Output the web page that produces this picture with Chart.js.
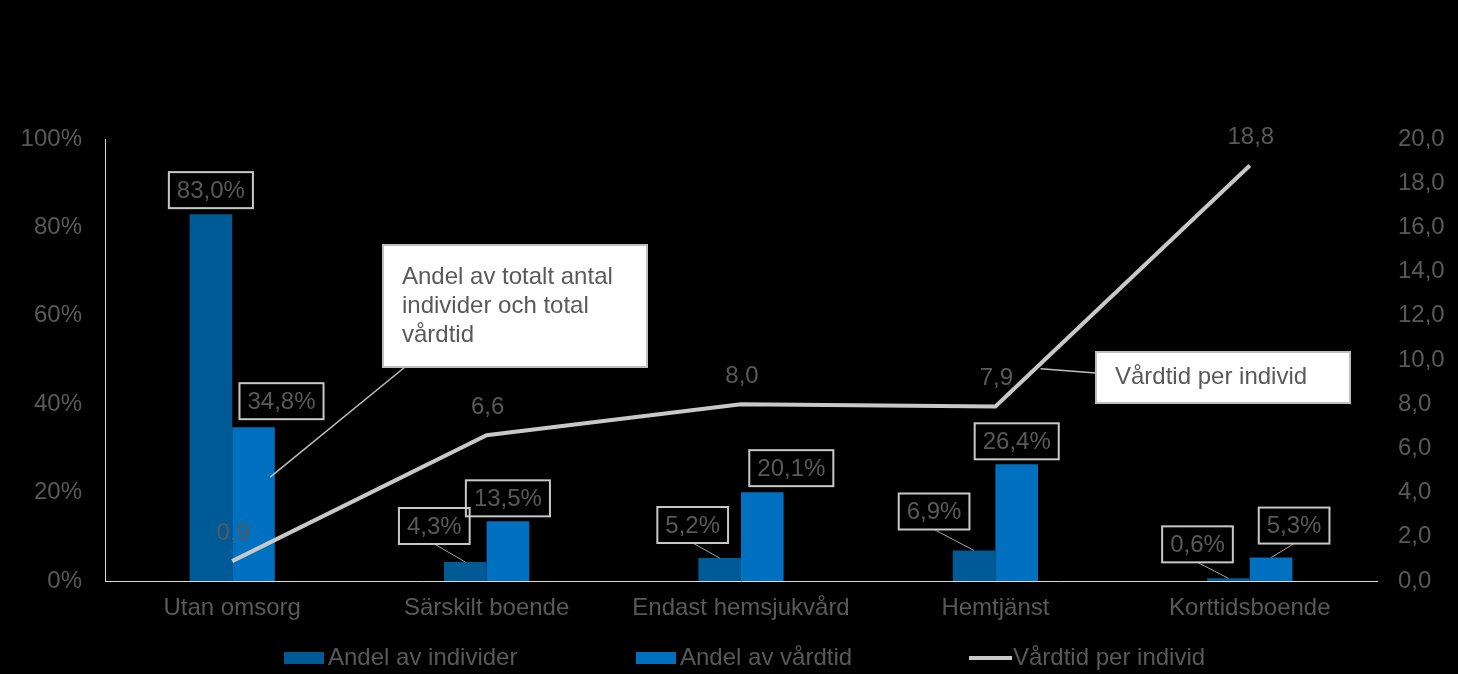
<!DOCTYPE html>
<html>
<head>
<meta charset="utf-8">
<script src="https://cdn.jsdelivr.net/npm/chart.js@4.4.1/dist/chart.umd.min.js"></script>
<style>
  html, body { margin: 0; background: #000; }
  canvas { display: block; }
</style>
</head>
<body>
<canvas id="chart" width="1458" height="674"></canvas>
<script>
// data
const categories = ['Utan omsorg', 'Särskilt boende', 'Endast hemsjukvård', 'Hemtjänst', 'Korttidsboende'];
const andelIndivider = [83.0, 4.3, 5.2, 6.9, 0.6];
const andelVardtid = [34.8, 13.5, 20.1, 26.4, 5.3];
const vardtidPerIndivid = [0.9, 6.6, 8.0, 7.9, 18.8];
const seriesNames = ['Andel av individer', 'Andel av vårdtid', 'Vårdtid per individ'];
const calloutAndel = ['Andel av totalt antal', 'individer och total', 'vårdtid'];
const calloutVardtid = ['Vårdtid per individ'];

const FONT = '"Liberation Sans", Arial, sans-serif';
const GREY_TEXT = '#595959';
const DARK = '#005a96';
const LIGHT = '#0070c0';
const LINE = '#c8c8c8';

// label box offsets (px) from the bar top, as placed in the reference
const darkLabelOffset = [[0, -24], [-31, -36], [-27, -33], [-40, -39], [-31, -34]];
const lightLabelOffset = [[28, -26], [0, -23], [29, -24], [0, -23], [23, -32]];

const comma = (v, d) => v.toFixed(d).replace('.', ',');

function drawBoxLabel(ctx, text, cx, cy, barX, barY) {
  ctx.font = '24px ' + FONT;
  const w = ctx.measureText(text).width + 16;
  const h = 36;
  const left = cx - w / 2, top = cy - h / 2;
  if (barY - (top + h) > 10) {
    ctx.strokeStyle = '#a6a6a6';
    ctx.lineWidth = 1;
    ctx.beginPath();
    ctx.moveTo(cx, top + h);
    ctx.lineTo(barX, barY);
    ctx.stroke();
  }
  ctx.strokeStyle = '#c8c8c8';
  ctx.lineWidth = 2;
  ctx.strokeRect(left, top, w, h);
  ctx.fillStyle = GREY_TEXT;
  ctx.textAlign = 'center';
  ctx.textBaseline = 'middle';
  ctx.fillText(text, cx, cy + 1);
}

function drawCallout(ctx, lines, left, top, w, h, from, to) {
  ctx.strokeStyle = '#bfbfbf';
  ctx.lineWidth = 1.5;
  ctx.beginPath();
  ctx.moveTo(from[0], from[1]);
  ctx.lineTo(to[0], to[1]);
  ctx.stroke();
  ctx.fillStyle = '#fff';
  ctx.fillRect(left, top, w, h);
  ctx.lineWidth = 2;
  ctx.strokeRect(left, top, w, h);
  ctx.fillStyle = GREY_TEXT;
  ctx.font = '24px ' + FONT;
  ctx.textAlign = 'left';
  ctx.textBaseline = 'middle';
  const startY = top + h / 2 - (lines.length - 1) * 29 / 2;
  lines.forEach((t, i) => ctx.fillText(t, left + 19, startY + i * 29));
}

const labelPlugin = {
  id: 'labels',
  afterDatasetsDraw(chart) {
    const ctx = chart.ctx;
    const x = chart.scales.x, yR = chart.scales.yR, y = chart.scales.y;
    ctx.save();

    // callouts (under the labels)
    drawCallout(ctx, calloutAndel, 383, 245, 264, 122,
      [405, 367], [x.getPixelForValue(0) + 38, y.getPixelForValue(23.5)]);
    const midX = (x.getPixelForValue(3) + x.getPixelForValue(4)) / 2;
    drawCallout(ctx, calloutVardtid, 1096, 352, 254, 51,
      [1096, 373], [midX - 82, yR.getPixelForValue(9.6)]);

    // bar labels
    const metaDark = chart.getDatasetMeta(0);
    const metaLight = chart.getDatasetMeta(1);
    metaDark.data.forEach((bar, i) => {
      const o = darkLabelOffset[i];
      drawBoxLabel(ctx, comma(andelIndivider[i], 1) + '%', bar.x + o[0], bar.y + o[1], bar.x, bar.y);
    });
    metaLight.data.forEach((bar, i) => {
      const o = lightLabelOffset[i];
      drawBoxLabel(ctx, comma(andelVardtid[i], 1) + '%', bar.x + o[0], bar.y + o[1], bar.x, bar.y);
    });

    // line labels
    ctx.font = '24px ' + FONT;
    ctx.fillStyle = GREY_TEXT;
    ctx.textAlign = 'center';
    ctx.textBaseline = 'middle';
    chart.getDatasetMeta(2).data.forEach((pt, i) => {
      ctx.fillText(comma(vardtidPerIndivid[i], 1), pt.x + 1, pt.y - 28);
    });

    // legend
    const legendX = [284, 636, 969];
    const ly = 658;
    chart.data.datasets.forEach((ds, i) => {
      const lx = legendX[i];
      if (ds.type === 'line') {
        ctx.strokeStyle = ds.borderColor;
        ctx.lineWidth = 4;
        ctx.beginPath();
        ctx.moveTo(lx, ly);
        ctx.lineTo(lx + 43, ly);
        ctx.stroke();
      } else {
        ctx.fillStyle = ds.backgroundColor;
        ctx.fillRect(lx, ly - 6, 40, 12);
      }
      ctx.fillStyle = GREY_TEXT;
      ctx.textAlign = 'left';
      ctx.fillText(ds.label, lx + 44, ly);
    });
    ctx.restore();
  }
};

new Chart(document.getElementById('chart'), {
  data: {
    labels: categories,
    datasets: [
      { type: 'bar', label: seriesNames[0], data: andelIndivider, backgroundColor: DARK,
        yAxisID: 'y', order: 1, categoryPercentage: 0.335, barPercentage: 1 },
      { type: 'bar', label: seriesNames[1], data: andelVardtid, backgroundColor: LIGHT,
        yAxisID: 'y', order: 1, categoryPercentage: 0.335, barPercentage: 1 },
      { type: 'line', label: seriesNames[2], data: vardtidPerIndivid, borderColor: LINE,
        borderWidth: 4, pointRadius: 0, yAxisID: 'yR', order: 0, tension: 0 }
    ]
  },
  options: {
    responsive: false,
    animation: false,
    layout: { padding: { top: 139, left: 0, right: 0, bottom: 0 } },
    plugins: { legend: { display: false }, tooltip: { enabled: false } },
    scales: {
      x: {
        grid: { display: false, drawTicks: false },
        border: { display: true, color: '#d9d9d9', width: 1 },
        ticks: { color: GREY_TEXT, font: { family: FONT, size: 24 }, padding: 13, maxRotation: 0 },
        afterFit: s => { s.height = 93; }
      },
      y: {
        position: 'left', min: 0, max: 100,
        grid: { display: false, drawTicks: false },
        border: { display: true, color: '#d9d9d9', width: 1 },
        ticks: { stepSize: 20, color: GREY_TEXT, font: { family: FONT, size: 24 }, padding: 23,
          callback: v => v + '%' },
        afterFit: s => { s.width = 105; }
      },
      yR: {
        position: 'right', min: 0, max: 20,
        grid: { display: false, drawTicks: false },
        border: { display: false },
        ticks: { stepSize: 2, color: GREY_TEXT, font: { family: FONT, size: 24 }, padding: 21,
          callback: v => comma(v, 1) },
        afterFit: s => { s.width = 81; }
      }
    }
  },
  plugins: [labelPlugin]
});
</script>
</body>
</html>
